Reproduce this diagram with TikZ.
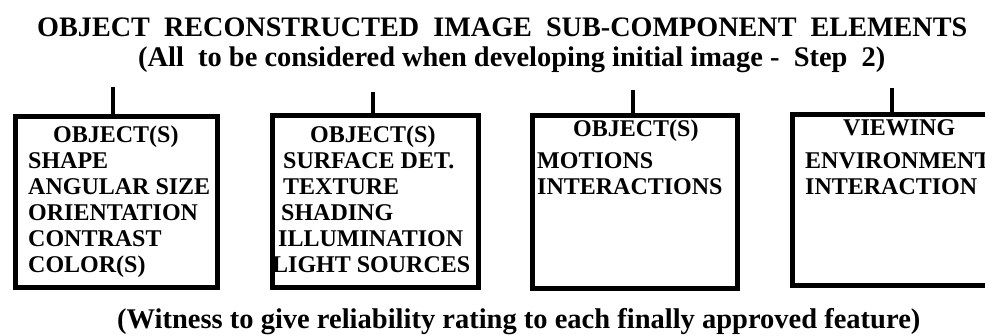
\documentclass[tikz,border=0pt]{standalone}
\usepackage{fontspec}
\setmainfont{Liberation Serif}[BoldFont={Liberation Serif Bold}]
\begin{document}
\begin{tikzpicture}[x=1pt,y=-1pt,
  box/.style={draw=black,line width=5pt,rectangle,inner sep=0pt,anchor=north west},
  stub/.style={line width=4pt},
  boxtext/.style={inner sep=0pt,anchor=base west,font=\fontsize{24}{26}\selectfont\bfseries},
  titletext/.style={inner sep=0pt,anchor=base west,font=\bfseries}]
\useasboundingbox (0,0) rectangle (985,336);
\clip (0,0) rectangle (985,336);
\fill[white] (0,0) rectangle (985,336);
% titles
\node[titletext] (title) at (37,37) {\resizebox{930pt}{!}{OBJECT\ \ RECONSTRUCTED\ \ IMAGE\ \ SUB-COMPONENT\ \ ELEMENTS}};
\node[titletext] (sub) at (138,67) {\resizebox{747pt}{!}{(All\ \ to be considered when developing initial image -\ \ Step\ \ 2)}};
\node[titletext] (foot) at (117,329) {\resizebox{803pt}{!}{(Witness to give reliability rating to each finally approved feature)}};
% boxes
\node[box,minimum width=202pt,minimum height=171pt] (b1) at (12.5,114.5) {};
\node[box,minimum width=206pt,minimum height=172pt] (b2) at (269.5,113.5) {};
\node[box,minimum width=205pt,minimum height=173pt] (b3) at (529.5,113.5) {};
\node[box,minimum width=230pt,minimum height=171pt] (b4) at (789.5,112.5) {};
% stubs
\coordinate (s1) at (113,87);
\coordinate (s2) at (373,92);
\coordinate (s3) at (633,90);
\coordinate (s4) at (892,88);
\draw[stub] (s1) -- (s1 |- b1.north);
\draw[stub] (s2) -- (s2 |- b2.north);
\draw[stub] (s3) -- (s3 |- b3.north);
\draw[stub] (s4) -- (s4 |- b4.north);
% box 1 text
\node[boxtext] (t11) at (53,143) {OBJECT(S)};
\node[boxtext] (t12) at (28,169) {SHAPE};
\node[boxtext] (t13) at (28,195) {ANGULAR SIZE};
\node[boxtext] (t14) at (28,221) {ORIENTATION};
\node[boxtext] (t15) at (28,247) {CONTRAST};
\node[boxtext] (t16) at (28,273) {COLOR(S)};
% box 2 text
\node[boxtext] (t21) at (310,143) {OBJECT(S)};
\node[boxtext] (t22) at (283,169) {SURFACE DET.};
\node[boxtext] (t23) at (283,195) {TEXTURE};
\node[boxtext] (t24) at (281,221) {SHADING};
\node[boxtext] (t25) at (278,247) {ILLUMINATION};
\node[boxtext] (t26) at (272,273) {LIGHT SOURCES};
% box 3 text
\node[boxtext] (t31) at (573,137) {OBJECT(S)};
\node[boxtext] (t32) at (537,169) {MOTIONS};
\node[boxtext] (t33) at (537,195) {INTERACTIONS};
% box 4 text
\node[boxtext] (t41) at (843,136) {VIEWING};
\node[boxtext] (t42) at (805,169) {ENVIRONMENT};
\node[boxtext] (t43) at (805,195) {INTERACTION};
\end{tikzpicture}
\end{document}
